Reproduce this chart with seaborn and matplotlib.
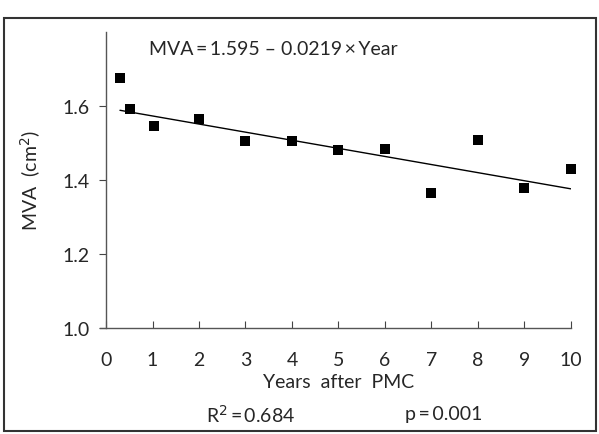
import numpy as np
import pandas as pd
import matplotlib
matplotlib.use('Agg')
import matplotlib.pyplot as plt
import seaborn as sns
from matplotlib.patches import Rectangle

# data
years = [0.3, 0.52, 1.03, 2.0, 3.0, 4.0, 5.0, 6.0, 7.0, 8.0, 9.0, 10.0]
mva = [1.675, 1.591, 1.545, 1.566, 1.505, 1.505, 1.481, 1.483, 1.366, 1.508, 1.378, 1.43]
intercept = 1.595
slope = -0.0219
fit_x = [0.3, 10.0]
x_ticks = list(range(0, 11))
y_ticks = [1.0, 1.2, 1.4, 1.6]

sns.set_style('ticks')
plt.rcParams['font.family'] = ['Lato', 'DejaVu Sans']

fig = plt.figure(figsize=(5.99, 4.35), dpi=100)
ax = fig.add_axes([0.177, 0.244, 0.776, 0.68])

df = pd.DataFrame({'Year': years, 'MVA': mva})
sns.scatterplot(data=df, x='Year', y='MVA', marker='s', s=55, color='black',
                edgecolor='black', linewidth=0, ax=ax, zorder=3, clip_on=False)

fit = pd.DataFrame({'x': fit_x, 'y': [intercept + slope * v for v in fit_x]})
sns.lineplot(data=fit, x='x', y='y', color='black', linewidth=1.0, ax=ax)

fs = 14
ax.set_xlim(0, 10)
ax.set_ylim(1.0, 1.8)
ax.set_xticks(x_ticks)
ax.set_yticks(y_ticks)
ax.set_yticklabels(['%.1f' % v for v in y_ticks])
ax.tick_params(axis='x', direction='in', length=5, labelsize=fs, pad=17, color='#444444')
ax.tick_params(axis='y', direction='out', length=5, labelsize=fs, pad=7, color='#444444')
for s in ['top', 'right']:
    ax.spines[s].set_visible(False)
for s in ['left', 'bottom']:
    ax.spines[s].set_color('#555555')
    ax.spines[s].set_linewidth(1.0)
ax.spines['bottom'].set_bounds(-0.13, 10)
ax.spines['bottom'].set_clip_on(False)

ax.set_xlabel('Years  after  PMC', fontsize=fs, labelpad=3)
ax.set_ylabel('MVA  (cm$^2$)', fontsize=fs, labelpad=14)

ax.text(0.93, 1.755, 'MVA\u2009=\u20091.595 – 0.0219\u2009×\u2009Year', fontsize=fs, va='center', ha='left')
fig.text(206 / 599, 1 - 415 / 435, 'R$^2$\u2009=\u20090.684', fontsize=fs, va='center', ha='left')
fig.text(405 / 599, 1 - 415 / 435, 'p\u2009=\u20090.001', fontsize=fs, va='center', ha='left')

fig.patches.append(Rectangle((4 / 599, 3 / 435), 592 / 599, 413 / 435, transform=fig.transFigure,
                             fill=False, edgecolor='#333333', linewidth=1.5))

fig.savefig('out.png', dpi=100)
